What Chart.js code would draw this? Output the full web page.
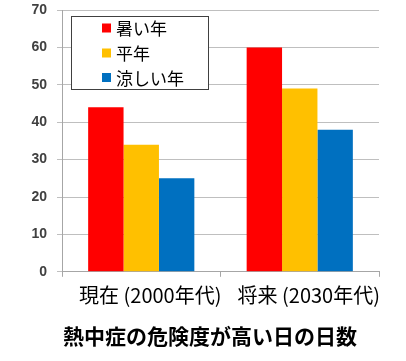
<!DOCTYPE html>
<html>
<head>
<meta charset="utf-8">
<script src="https://cdn.jsdelivr.net/npm/chart.js@4"></script>
<style>
  html, body { margin: 0; padding: 0; background: #fff; }
  #wrap { width: 406px; height: 361px; }
</style>
</head>
<body>
<div id="wrap"><canvas id="c" width="406" height="361"></canvas></div>
<script>
const categories = ['現在 (2000年代)', '将来 (2030年代)'];
const seriesNames = ['暑い年', '平年', '涼しい年'];
const hotYear = [44, 60];
const normalYear = [34, 49];
const coolYear = [25, 38];
const yTicks = [0, 10, 20, 30, 40, 50, 60, 70];
const titleText = '熱中症の危険度が高い日の日数';

const colors = ['#FF0000', '#FFC000', '#0070C0'];
const CJK = '"Noto Sans CJK JP", "Noto Sans", sans-serif';

const boxLegend = {
  id: 'boxLegend',
  afterLayout(chart) {
    // centre the bottom title where the original places it
    const t = chart.titleBlock;
    if (t) { t.left += 10; t.right += 10; }
  },
  afterDatasetsDraw(chart) {
    const ctx = chart.ctx;
    const a = chart.chartArea;
    const x = a.left + 9.5, y = a.top + 6.5, w = 137, h = 73;
    ctx.save();
    ctx.fillStyle = '#ffffff';
    ctx.fillRect(x, y, w, h);
    ctx.strokeStyle = '#404040';
    ctx.lineWidth = 1;
    ctx.strokeRect(x, y, w, h);
    ctx.font = '17px ' + CJK;
    ctx.textBaseline = 'middle';
    ctx.textAlign = 'left';
    const rows = [18, 43, 67.5];
    chart.data.datasets.forEach((ds, i) => {
      const cy = a.top + rows[i];
      ctx.fillStyle = ds.backgroundColor;
      ctx.fillRect(a.left + 40, cy - 4.5, 9, 9);
      ctx.fillStyle = '#000000';
      ctx.fillText(ds.label, a.left + 54, cy + 1);
    });
    ctx.restore();
  }
};

new Chart(document.getElementById('c'), {
  type: 'bar',
  data: {
    labels: categories,
    datasets: [
      { label: seriesNames[0], data: hotYear, backgroundColor: colors[0] },
      { label: seriesNames[1], data: normalYear, backgroundColor: colors[1] },
      { label: seriesNames[2], data: coolYear, backgroundColor: colors[2] }
    ]
  },
  options: {
    responsive: false,
    animation: false,
    events: [],
    layout: { padding: { left: 21, right: 27, top: 10, bottom: 0 } },
    datasets: { bar: { categoryPercentage: 0.67, barPercentage: 1.0, borderWidth: 0 } },
    plugins: {
      legend: { display: false },
      tooltip: { enabled: false },
      title: {
        display: true,
        text: titleText,
        position: 'bottom',
        color: '#000000',
        font: { family: CJK, size: 21, weight: 'bold', lineHeight: 1.2 },
        padding: { top: 7, bottom: 12 }
      }
    },
    scales: {
      x: {
        offset: true,
        grid: { display: true, drawOnChartArea: false, offset: true, tickLength: 5, color: '#a6a6a6' },
        border: { color: '#a6a6a6' },
        ticks: {
          color: '#000000',
          font: { family: CJK, size: 20 },
          padding: 7,
          labelOffset: 9,
          maxRotation: 0,
          autoSkip: false
        },
        afterFit(scale) { scale.height = 45; }
      },
      y: {
        min: 0,
        max: 70,
        afterBuildTicks(scale) { scale.ticks = yTicks.map(v => ({ value: v })); },
        grid: { color: '#bfbfbf', tickLength: 5 },
        border: { color: '#a6a6a6' },
        ticks: {
          color: '#404040',
          font: { family: '"Liberation Sans", Arial, sans-serif', size: 14, weight: 'bold', lineHeight: 0 },
          padding: 10
        },
        afterFit(scale) { scale.width = 41; }
      }
    }
  },
  plugins: [boxLegend]
});
</script>
</body>
</html>
